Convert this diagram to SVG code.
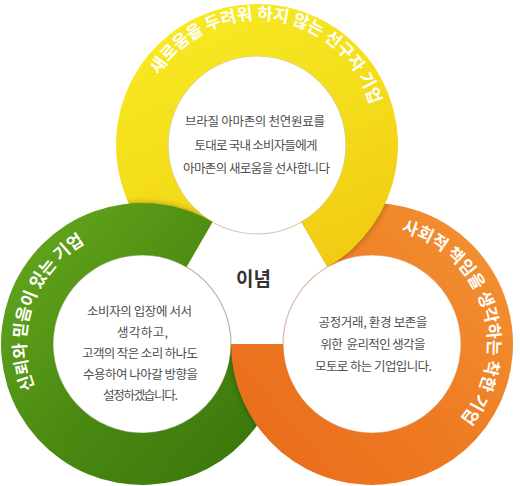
<svg xmlns="http://www.w3.org/2000/svg" xmlns:xlink="http://www.w3.org/1999/xlink" width="520" height="486" viewBox="0 0 520 486">
  <style>
    .ring-label { font-family: "Noto Sans CJK KR", "Noto Sans", sans-serif; font-size: 17px; font-weight: bold; fill: #ffffff; }
    .body { font-family: "Noto Sans CJK KR", "Noto Sans", sans-serif; font-size: 12.5px; fill: #4e4e4e; text-anchor: middle; }
    .center { font-family: "Noto Sans CJK KR", "Noto Sans", sans-serif; font-size: 19px; font-weight: bold; fill: #333333; text-anchor: middle; }
    .shadow { fill: #000000; opacity: 0.32; }
  </style>
  <defs>
    <linearGradient id="gy" gradientUnits="userSpaceOnUse" x1="200" y1="4" x2="320" y2="286">
      <stop offset="0" stop-color="#f7ea23"/>
      <stop offset="0.5" stop-color="#f4dc1a"/>
      <stop offset="1" stop-color="#f1c913"/>
    </linearGradient>
    <linearGradient id="gg" gradientUnits="userSpaceOnUse" x1="10" y1="230" x2="270" y2="460">
      <stop offset="0" stop-color="#64a71c"/>
      <stop offset="0.5" stop-color="#4a8a12"/>
      <stop offset="1" stop-color="#3a760b"/>
    </linearGradient>
    <linearGradient id="go" gradientUnits="userSpaceOnUse" x1="240" y1="460" x2="510" y2="230">
      <stop offset="0" stop-color="#e96c1b"/>
      <stop offset="0.5" stop-color="#ee7b22"/>
      <stop offset="1" stop-color="#f39433"/>
    </linearGradient>
    <filter id="blur" x="-20%" y="-20%" width="140%" height="140%">
      <feGaussianBlur stdDeviation="3"/>
    </filter>
    <path id="ringY" d="M186.5,267.11 A141,141 0 1 1 327.5,267.11 L301.5,222.08 A89,89 0 1 0 212.5,222.08 Z"/>
    <path id="ringG" d="M283,344 A141,141 0 1 1 212.5,221.89 L186.5,266.92 A89,89 0 1 0 231,344 Z"/>
    <path id="ringO" d="M301.5,221.89 A141,141 0 1 1 231,344 L283,344 A89,89 0 1 0 327.5,266.92 Z"/>
    <clipPath id="clipY"><use xlink:href="#ringY"/></clipPath>
    <clipPath id="clipG"><use xlink:href="#ringG"/></clipPath>
    <clipPath id="clipO"><use xlink:href="#ringO"/></clipPath>
    <clipPath id="clipBottom"><rect x="190" y="340" width="140" height="146"/></clipPath>
    <path id="arcY" d="M143.07,148.98 A116,116 0 1 1 365.42,180.23" fill="none"/>
    <path id="arcG" d="M123.85,458.57 A116,116 0 1 1 198.24,242.55" fill="none"/>
    <path id="arcO" d="M318.26,241.2 A116,116 0 1 1 387.34,458.98" fill="none"/>
  </defs>

  <rect width="520" height="486" fill="#ffffff"/>

  <!-- faint rims of the white inner circles -->
  <g fill="none" stroke-width="1.2">
    <circle cx="257" cy="145" r="89" stroke="#d3ccb0"/>
    <circle cx="142" cy="344" r="89" stroke="#b2baa2"/>
    <circle cx="372" cy="344" r="89" stroke="#d8bcac"/>
  </g>

  <g id="node-orange">
    <use xlink:href="#ringO" fill="url(#go)"/>
    <text class="ring-label"><textPath xlink:href="#arcO" startOffset="50%" text-anchor="middle">사회적 책임을 생각하는 착한 기업</textPath></text>
    <text class="body" x="373" y="327" textLength="109" lengthAdjust="spacing">공정거래, 환경 보존을</text>
    <text class="body" x="373" y="349" textLength="105" lengthAdjust="spacing" xml:space="preserve">위한  윤리적인 생각을</text>
    <text class="body" x="373.5" y="371" textLength="117" lengthAdjust="spacing">모토로 하는 기업입니다.</text>
  </g>

  <g id="node-yellow">
    <g clip-path="url(#clipO)"><use xlink:href="#ringY" class="shadow" filter="url(#blur)"/></g>
    <use xlink:href="#ringY" fill="url(#gy)"/>
    <text class="ring-label"><textPath xlink:href="#arcY" startOffset="50%" text-anchor="middle">새로움을 두려워 하지 않는 선구자 기업</textPath></text>
    <text class="body" x="255" y="126" textLength="140" lengthAdjust="spacing">브라질 아마존의 천연원료를</text>
    <text class="body" x="256" y="149.5" textLength="123" lengthAdjust="spacing">토대로 국내 소비자들에게</text>
    <text class="body" x="256.5" y="173" textLength="147" lengthAdjust="spacing">아마존의 새로움을 선사합니다</text>
  </g>

  <g id="node-green">
    <g clip-path="url(#clipY)"><use xlink:href="#ringG" class="shadow" filter="url(#blur)"/></g>
    <use xlink:href="#ringG" fill="url(#gg)"/>
    <text class="ring-label"><textPath xlink:href="#arcG" startOffset="50%" text-anchor="middle">신뢰와 믿음이 있는 기업</textPath></text>
    <text class="body" x="139.5" y="316" textLength="105" lengthAdjust="spacing">소비자의 입장에 서서</text>
    <text class="body" x="142.5" y="337" textLength="51" lengthAdjust="spacing">생각하고,</text>
    <text class="body" x="140" y="357.5" textLength="116" lengthAdjust="spacing">고객의 작은 소리 하나도</text>
    <text class="body" x="140.5" y="379" textLength="115" lengthAdjust="spacing">수용하여 나아갈 방향을</text>
    <text class="body" x="140.5" y="399.5" textLength="75" lengthAdjust="spacing">설정하겠습니다.</text>
  </g>

  <!-- orange passes over green at the bottom -->
  <g id="overlap-orange-over-green" clip-path="url(#clipBottom)">
    <g clip-path="url(#clipG)"><use xlink:href="#ringO" class="shadow" filter="url(#blur)"/></g>
    <use xlink:href="#ringO" fill="url(#go)"/>
  </g>

  <g id="node-center">
    <text class="center" x="253.5" y="286">이념</text>
  </g>

  <g id="connectors"/>
</svg>
